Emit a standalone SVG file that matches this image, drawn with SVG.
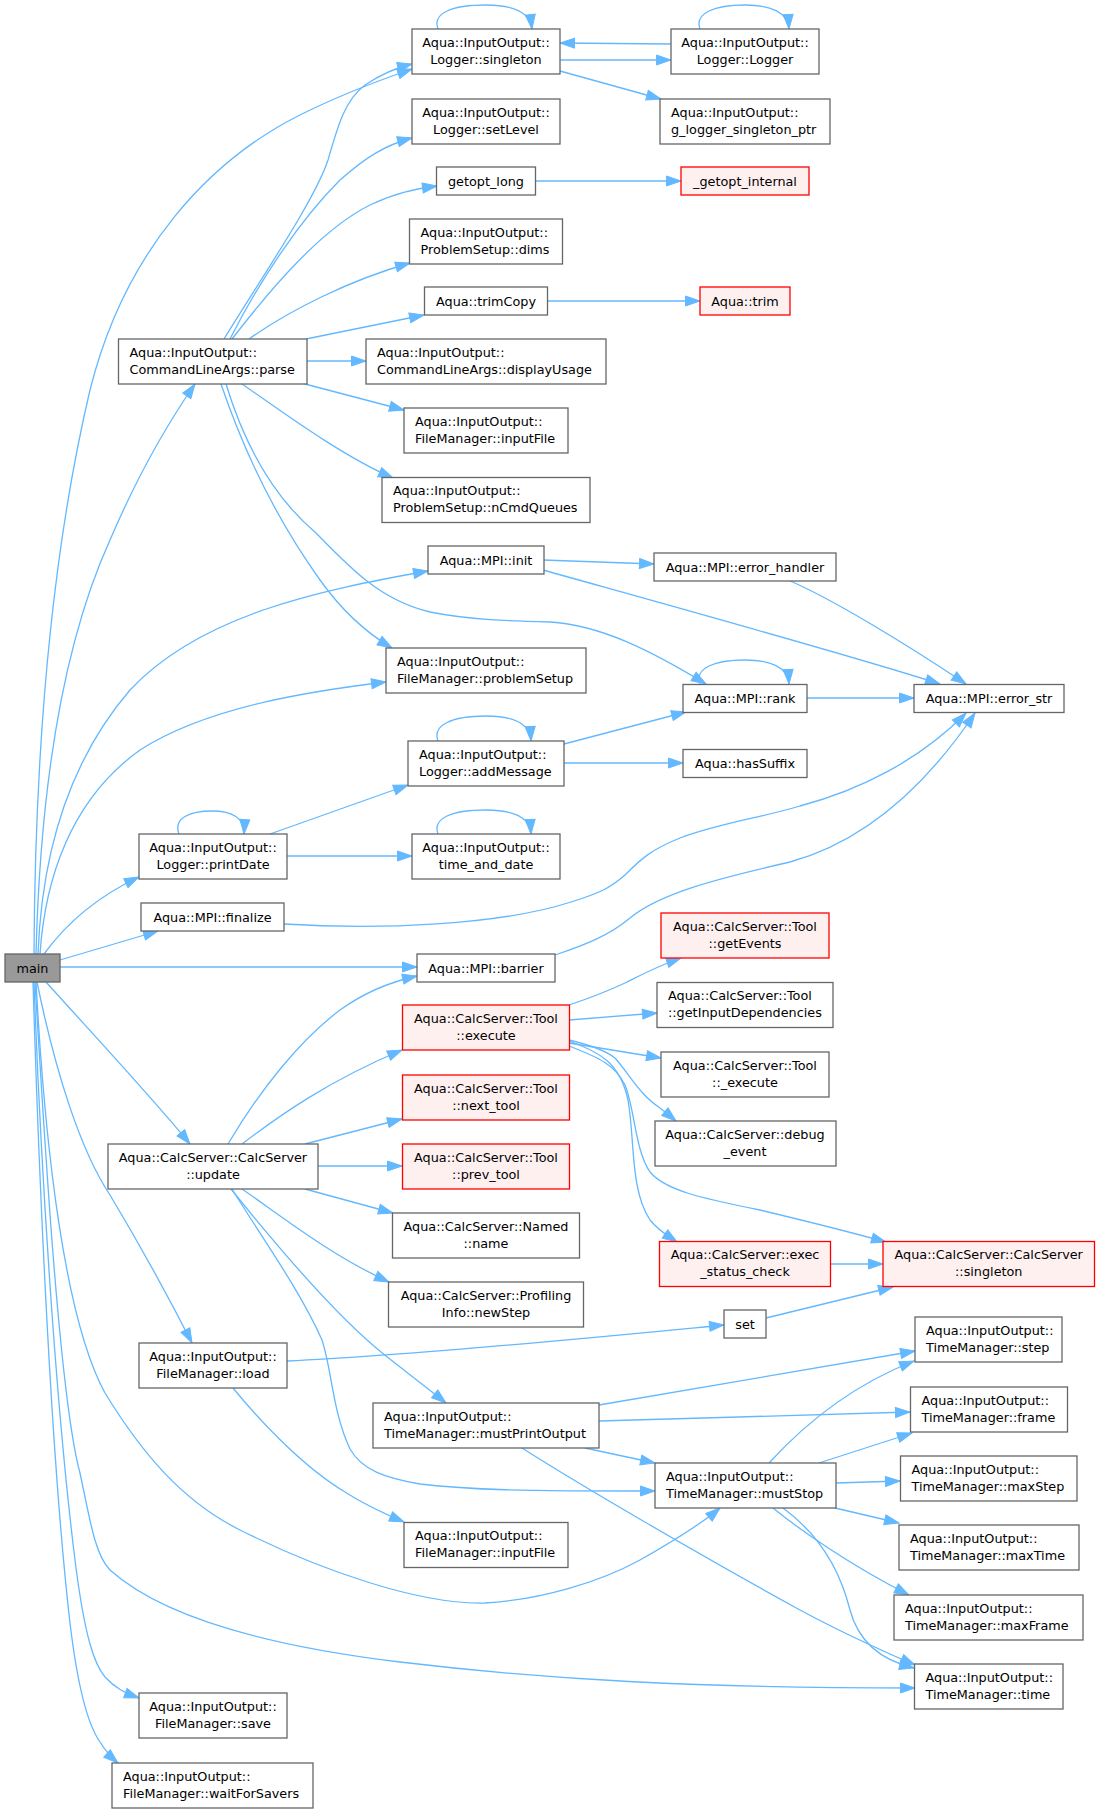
<svg xmlns="http://www.w3.org/2000/svg" width="1099" height="1813" viewBox="0 0 1099 1813">
<style>
.bg{fill:#fff}
.nd rect{fill:#fff;stroke:#666;stroke-width:1.3}
.rd rect{fill:#fff0f0;stroke:#f00;stroke-width:1.3}
.mn rect{fill:#999;stroke:#666;stroke-width:1.3}
text{font-family:"DejaVu Sans","Noto Sans",sans-serif;font-size:12.8px;fill:#000}
.c{text-anchor:middle}
.l{text-anchor:start}
#edges path{fill:none;stroke:#63b8ff;stroke-width:1.3;marker-end:url(#ar)}
</style>
<defs>
<marker id="ar" markerUnits="userSpaceOnUse" markerWidth="16" markerHeight="12" refX="15" refY="5.5" orient="auto" overflow="visible">
<path d="M0.5,0.5 L15,5.5 L0.5,10.5 z" fill="#63b8ff" stroke="#63b8ff" stroke-width="1"/>
</marker>
</defs>
<rect class="bg" x="0" y="0" width="1099" height="1813"/>
<g id="edges">
<path d="M438,29 C432,13 452,5 486,5 C512,5 530,12 532,29"/>
<path d="M700,29 C694,13 715,5 745,5 C770,5 788,12 789,29"/>
<path d="M700,684 C694,668 715,660 745,660 C770,660 788,667 789,684"/>
<path d="M438,741 C432,725 452,716 486,716 C512,716 530,723 531,741"/>
<path d="M179,834 C173,818 190,811 212,811 C232,811 245,818 244,834"/>
<path d="M438,834 C432,818 452,810 486,810 C512,810 530,817 531,834"/>
<path d="M560,60 L671,60"/>
<path d="M671,44 L560,43"/>
<path d="M560,71 L661,99"/>
<path d="M535,181 L681,181"/>
<path d="M547,301 L700,301"/>
<path d="M543,560 L654,564"/>
<path d="M543,570 C650,600 850,655 940,684"/>
<path d="M788,580 C830,598 900,640 966,684"/>
<path d="M807,698 L914,698"/>
<path d="M564,744 L686,712"/>
<path d="M564,763 L683,763"/>
<path d="M270,834 L408,785"/>
<path d="M287,856 L412,856"/>
<path d="M284,924 C380,930 500,925 571,902 C600,893 610,888 625,875 C640,860 650,850 680,838 C720,823 760,818 800,806 C860,790 920,760 966,713"/>
<path d="M555,955 C585,945 610,935 630,918 C660,893 720,878 790,862 C870,840 930,780 975,713"/>
<path d="M224,339 C260,280 315,200 328,160 C338,125 345,100 365,85 C380,75 395,68 412,64"/>
<path d="M230,339 C260,280 300,220 340,180 C365,158 385,145 412,138"/>
<path d="M232,339 C270,290 320,230 370,205 C395,193 415,189 437,186"/>
<path d="M249,339 C290,310 350,280 410,263"/>
<path d="M306,339 L424,315"/>
<path d="M307,361 L366,361"/>
<path d="M305,384 L404,410"/>
<path d="M242,384 C280,410 340,455 393,478"/>
<path d="M221,384 C240,440 270,510 320,580 C345,615 370,635 392,648"/>
<path d="M226,384 C240,430 265,490 316,533 C350,568 380,600 430,612 C470,620 510,621 550,622 C600,625 650,650 706,684"/>
<path d="M34,954 C35,750 50,560 90,390 C125,250 210,160 300,115 C340,95 380,80 412,69"/>
<path d="M36,954 C40,800 60,650 110,540 C140,470 170,420 195,384"/>
<path d="M38,954 C42,850 70,760 130,690 C200,615 320,590 428,571"/>
<path d="M40,954 C45,880 70,800 140,750 C210,705 320,690 386,682"/>
<path d="M44,954 C60,932 90,900 139,877"/>
<path d="M60,960 L158,931"/>
<path d="M60,967 L417,967"/>
<path d="M46,982 C80,1020 150,1095 190,1144"/>
<path d="M37,982 C55,1070 80,1150 110,1195 C140,1245 170,1300 192,1343"/>
<path d="M36,982 C45,1150 65,1320 105,1393 C140,1450 180,1500 240,1530 C320,1570 420,1605 485,1603 C540,1600 600,1582 640,1560 C670,1543 700,1525 720,1508"/>
<path d="M35,982 C45,1150 60,1400 80,1473 C90,1520 95,1555 110,1570 C160,1615 260,1645 400,1662 C550,1680 700,1688 915,1688"/>
<path d="M34,982 C40,1150 55,1400 75,1560 C85,1640 95,1665 105,1677 C115,1688 125,1693 139,1698"/>
<path d="M33,982 C38,1150 50,1450 70,1623 C78,1690 88,1725 100,1742 C106,1752 111,1757 118,1763"/>
<path d="M228,1144 C260,1090 300,1040 340,1010 C365,992 390,982 417,976"/>
<path d="M242,1144 C280,1115 330,1080 402,1050"/>
<path d="M305,1144 L402,1119"/>
<path d="M318,1166 L402,1166"/>
<path d="M305,1189 L393,1213"/>
<path d="M242,1189 C280,1215 330,1255 389,1282"/>
<path d="M231,1189 C280,1250 340,1320 386,1356 C410,1375 430,1390 446,1403"/>
<path d="M232,1189 C260,1235 300,1290 322,1340 C332,1370 332,1410 350,1449 C362,1470 385,1478 420,1484 C470,1490 520,1491 655,1491"/>
<path d="M287,1361 C420,1355 620,1335 724,1325"/>
<path d="M766,1318 L893,1287"/>
<path d="M233,1388 C255,1415 300,1465 345,1492 C365,1505 385,1514 404,1522"/>
<path d="M599,1405 L915,1351"/>
<path d="M599,1421 L910,1412"/>
<path d="M585,1448 L655,1463"/>
<path d="M522,1448 C580,1485 700,1555 800,1610 C850,1637 885,1652 915,1665"/>
<path d="M769,1463 C790,1440 840,1390 914,1361"/>
<path d="M819,1463 L912,1433"/>
<path d="M836,1483 L900,1481"/>
<path d="M835,1508 L899,1523"/>
<path d="M773,1508 C800,1530 850,1565 909,1595"/>
<path d="M783,1508 C820,1535 840,1570 850,1610 C858,1640 880,1660 914,1668"/>
<path d="M569,1005 C590,998 610,990 625,983 C645,973 660,965 681,958"/>
<path d="M569,1020 L657,1013"/>
<path d="M569,1043 L661,1058"/>
<path d="M569,1040 C590,1045 605,1050 615,1058 C630,1075 640,1095 660,1108 C665,1112 670,1116 676,1121"/>
<path d="M569,1046 C600,1058 615,1065 625,1085 C635,1110 635,1150 650,1172 C665,1190 700,1198 760,1210 C810,1222 850,1232 886,1242"/>
<path d="M569,1041 C600,1052 620,1063 628,1100 C635,1140 630,1190 650,1220 C660,1232 668,1236 677,1242"/>
<path d="M831,1264 L883,1264"/>
</g>
<g id="main" class="mn"><rect x="5" y="954" width="55" height="28"/><text class="c" x="32.5" y="972.6">main</text></g>
<g id="parse" class="nd"><rect x="118.5" y="339" width="188.5" height="45"/><text class="l" x="129.5" y="356.6">Aqua::InputOutput::</text><text class="l" x="129.5" y="373.8">CommandLineArgs::parse</text></g>
<g id="printDate" class="nd"><rect x="139" y="834" width="148" height="45"/><text class="c" x="213" y="851.6">Aqua::InputOutput::</text><text class="c" x="213" y="868.8">Logger::printDate</text></g>
<g id="finalize" class="nd"><rect x="141" y="903" width="143" height="28"/><text class="c" x="212.5" y="921.6">Aqua::MPI::finalize</text></g>
<g id="update" class="nd"><rect x="108" y="1144" width="210" height="45"/><text class="c" x="213" y="1161.6">Aqua::CalcServer::CalcServer</text><text class="c" x="213" y="1178.8">::update</text></g>
<g id="load" class="nd"><rect x="139" y="1343" width="148" height="45"/><text class="c" x="213" y="1360.6">Aqua::InputOutput::</text><text class="c" x="213" y="1377.8">FileManager::load</text></g>
<g id="save" class="nd"><rect x="139" y="1693" width="148" height="45"/><text class="c" x="213" y="1710.6">Aqua::InputOutput::</text><text class="c" x="213" y="1727.8">FileManager::save</text></g>
<g id="waitForSavers" class="nd"><rect x="112" y="1763" width="201" height="45"/><text class="l" x="123" y="1780.6">Aqua::InputOutput::</text><text class="l" x="123" y="1797.8">FileManager::waitForSavers</text></g>
<g id="loggerSingleton" class="nd"><rect x="412" y="29" width="148" height="45"/><text class="c" x="486" y="46.6">Aqua::InputOutput::</text><text class="c" x="486" y="63.8">Logger::singleton</text></g>
<g id="setLevel" class="nd"><rect x="412" y="99" width="148" height="45"/><text class="c" x="486" y="116.6">Aqua::InputOutput::</text><text class="c" x="486" y="133.8">Logger::setLevel</text></g>
<g id="getopt_long" class="nd"><rect x="436.5" y="167" width="99" height="28"/><text class="c" x="486" y="185.6">getopt_long</text></g>
<g id="dims" class="nd"><rect x="409.5" y="219" width="153" height="45"/><text class="l" x="420.5" y="236.6">Aqua::InputOutput::</text><text class="l" x="420.5" y="253.8">ProblemSetup::dims</text></g>
<g id="trimCopy" class="nd"><rect x="424.5" y="287" width="123" height="28"/><text class="c" x="486" y="305.6">Aqua::trimCopy</text></g>
<g id="displayUsage" class="nd"><rect x="366" y="339" width="240" height="45"/><text class="l" x="377" y="356.6">Aqua::InputOutput::</text><text class="l" x="377" y="373.8">CommandLineArgs::displayUsage</text></g>
<g id="inputFile1" class="nd"><rect x="404" y="408" width="164" height="45"/><text class="l" x="415" y="425.6">Aqua::InputOutput::</text><text class="l" x="415" y="442.8">FileManager::inputFile</text></g>
<g id="nCmdQueues" class="nd"><rect x="382" y="477.5" width="208" height="45"/><text class="l" x="393" y="495.1">Aqua::InputOutput::</text><text class="l" x="393" y="512.3">ProblemSetup::nCmdQueues</text></g>
<g id="mpiInit" class="nd"><rect x="428" y="546" width="116" height="28"/><text class="c" x="486" y="564.6">Aqua::MPI::init</text></g>
<g id="problemSetup" class="nd"><rect x="386" y="648" width="200" height="45"/><text class="l" x="397" y="665.6">Aqua::InputOutput::</text><text class="l" x="397" y="682.8">FileManager::problemSetup</text></g>
<g id="addMessage" class="nd"><rect x="408" y="741" width="156" height="45"/><text class="l" x="419" y="758.6">Aqua::InputOutput::</text><text class="l" x="419" y="775.8">Logger::addMessage</text></g>
<g id="timeAndDate" class="nd"><rect x="412" y="834" width="148" height="45"/><text class="c" x="486" y="851.6">Aqua::InputOutput::</text><text class="c" x="486" y="868.8">time_and_date</text></g>
<g id="barrier" class="nd"><rect x="417" y="954" width="138" height="28"/><text class="c" x="486" y="972.6">Aqua::MPI::barrier</text></g>
<g id="execute" class="rd"><rect x="402.5" y="1005" width="167" height="45"/><text class="c" x="486" y="1022.6">Aqua::CalcServer::Tool</text><text class="c" x="486" y="1039.8">::execute</text></g>
<g id="nextTool" class="rd"><rect x="402.5" y="1075" width="167" height="45"/><text class="c" x="486" y="1092.6">Aqua::CalcServer::Tool</text><text class="c" x="486" y="1109.8">::next_tool</text></g>
<g id="prevTool" class="rd"><rect x="402.5" y="1144" width="167" height="45"/><text class="c" x="486" y="1161.6">Aqua::CalcServer::Tool</text><text class="c" x="486" y="1178.8">::prev_tool</text></g>
<g id="namedName" class="nd"><rect x="392.5" y="1213" width="187" height="45"/><text class="c" x="486" y="1230.6">Aqua::CalcServer::Named</text><text class="c" x="486" y="1247.8">::name</text></g>
<g id="newStep" class="nd"><rect x="388.5" y="1282" width="195" height="45"/><text class="c" x="486" y="1299.6">Aqua::CalcServer::Profiling</text><text class="c" x="486" y="1316.8">Info::newStep</text></g>
<g id="mustPrintOutput" class="nd"><rect x="373" y="1403" width="226" height="45"/><text class="l" x="384" y="1420.6">Aqua::InputOutput::</text><text class="l" x="384" y="1437.8">TimeManager::mustPrintOutput</text></g>
<g id="inputFile2" class="nd"><rect x="404" y="1522.5" width="164" height="45"/><text class="l" x="415" y="1540.1">Aqua::InputOutput::</text><text class="l" x="415" y="1557.3">FileManager::inputFile</text></g>
<g id="loggerLogger" class="nd"><rect x="671" y="29" width="148" height="45"/><text class="c" x="745" y="46.6">Aqua::InputOutput::</text><text class="c" x="745" y="63.8">Logger::Logger</text></g>
<g id="gLogger" class="nd"><rect x="660" y="99" width="170" height="45"/><text class="l" x="671" y="116.6">Aqua::InputOutput::</text><text class="l" x="671" y="133.8">g_logger_singleton_ptr</text></g>
<g id="getoptInternal" class="rd"><rect x="681" y="167" width="128" height="28"/><text class="c" x="745" y="185.6">_getopt_internal</text></g>
<g id="trim" class="rd"><rect x="700" y="287" width="90" height="28"/><text class="c" x="745" y="305.6">Aqua::trim</text></g>
<g id="errorHandler" class="nd"><rect x="654" y="553" width="182" height="28"/><text class="c" x="745" y="571.6">Aqua::MPI::error_handler</text></g>
<g id="rank" class="nd"><rect x="683" y="684.5" width="124" height="28"/><text class="c" x="745" y="703.1">Aqua::MPI::rank</text></g>
<g id="hasSuffix" class="nd"><rect x="683" y="749.5" width="124" height="28"/><text class="c" x="745" y="768.1">Aqua::hasSuffix</text></g>
<g id="getEvents" class="rd"><rect x="661" y="913" width="168" height="45"/><text class="c" x="745" y="930.6">Aqua::CalcServer::Tool</text><text class="c" x="745" y="947.8">::getEvents</text></g>
<g id="getInputDependencies" class="nd"><rect x="657" y="982.5" width="176" height="45"/><text class="l" x="668" y="1000.1">Aqua::CalcServer::Tool</text><text class="l" x="668" y="1017.3">::getInputDependencies</text></g>
<g id="toolExecute" class="nd"><rect x="661" y="1052" width="168" height="45"/><text class="c" x="745" y="1069.6">Aqua::CalcServer::Tool</text><text class="c" x="745" y="1086.8">::_execute</text></g>
<g id="debugEvent" class="nd"><rect x="655" y="1121" width="181" height="45"/><text class="c" x="745" y="1138.6">Aqua::CalcServer::debug</text><text class="c" x="745" y="1155.8">_event</text></g>
<g id="execStatusCheck" class="rd"><rect x="659.5" y="1241.5" width="171" height="45"/><text class="c" x="745" y="1259.1">Aqua::CalcServer::exec</text><text class="c" x="745" y="1276.3">_status_check</text></g>
<g id="set" class="nd"><rect x="724" y="1310" width="42" height="28"/><text class="c" x="745" y="1328.6">set</text></g>
<g id="mustStop" class="nd"><rect x="655" y="1463" width="181" height="45"/><text class="l" x="666" y="1480.6">Aqua::InputOutput::</text><text class="l" x="666" y="1497.8">TimeManager::mustStop</text></g>
<g id="errorStr" class="nd"><rect x="914" y="684.5" width="150" height="28"/><text class="c" x="989" y="703.1">Aqua::MPI::error_str</text></g>
<g id="csSingleton" class="rd"><rect x="883" y="1241.5" width="211.5" height="45"/><text class="c" x="988.75" y="1259.1">Aqua::CalcServer::CalcServer</text><text class="c" x="988.75" y="1276.3">::singleton</text></g>
<g id="tmStep" class="nd"><rect x="915" y="1317" width="147" height="45"/><text class="l" x="926" y="1334.6">Aqua::InputOutput::</text><text class="l" x="926" y="1351.8">TimeManager::step</text></g>
<g id="tmFrame" class="nd"><rect x="910.5" y="1387" width="157" height="45"/><text class="l" x="921.5" y="1404.6">Aqua::InputOutput::</text><text class="l" x="921.5" y="1421.8">TimeManager::frame</text></g>
<g id="tmMaxStep" class="nd"><rect x="900.5" y="1456" width="176.5" height="45"/><text class="l" x="911.5" y="1473.6">Aqua::InputOutput::</text><text class="l" x="911.5" y="1490.8">TimeManager::maxStep</text></g>
<g id="tmMaxTime" class="nd"><rect x="899" y="1525" width="180" height="45"/><text class="l" x="910" y="1542.6">Aqua::InputOutput::</text><text class="l" x="910" y="1559.8">TimeManager::maxTime</text></g>
<g id="tmMaxFrame" class="nd"><rect x="894" y="1595" width="189" height="45"/><text class="l" x="905" y="1612.6">Aqua::InputOutput::</text><text class="l" x="905" y="1629.8">TimeManager::maxFrame</text></g>
<g id="tmTime" class="nd"><rect x="914.5" y="1664" width="148.5" height="45"/><text class="l" x="925.5" y="1681.6">Aqua::InputOutput::</text><text class="l" x="925.5" y="1698.8">TimeManager::time</text></g>
</svg>
